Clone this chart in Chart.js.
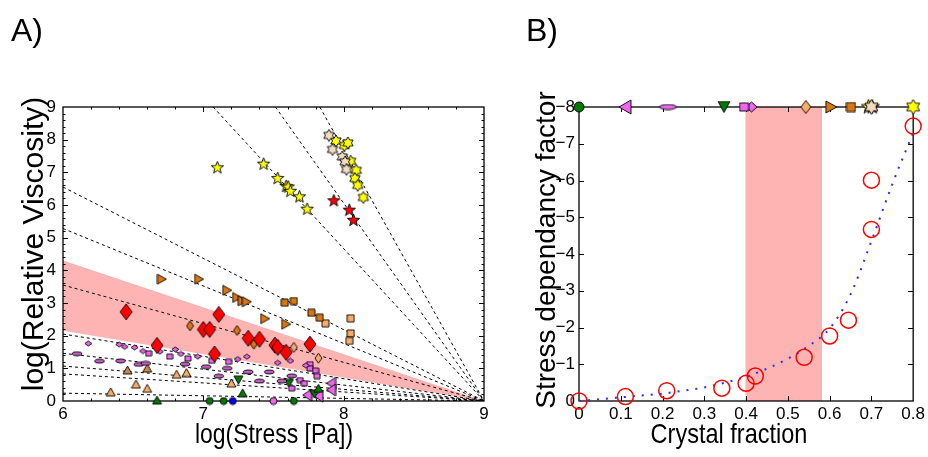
<!DOCTYPE html>
<html>
<head>
<meta charset="utf-8">
<script src="https://cdn.jsdelivr.net/npm/chart.js@4.4.0/dist/chart.umd.min.js"></script>
<style>
body{margin:0;background:#fff;width:928px;height:457px;position:relative;overflow:hidden;font-family:"Liberation Sans",Arial,sans-serif}
#left{position:absolute;left:0;top:0}
#right{position:absolute;left:500px;top:0}
.lbl{position:absolute;color:#000;white-space:nowrap;line-height:1}
</style>
</head>
<body>
<canvas id="left" width="500" height="457"></canvas>
<canvas id="right" width="428" height="457"></canvas>
<div class="lbl" style="left:11px;top:14px;font-size:32px">A)</div>
<div class="lbl" style="left:526px;top:14px;font-size:32px">B)</div>
<div class="lbl" style="left:274px;top:434px;font-size:28px;transform:translate(-50%,-50%) scaleX(0.82)">log(Stress [Pa])</div>
<div class="lbl" style="left:729px;top:434px;font-size:28px;transform:translate(-50%,-50%) scaleX(0.84)">Crystal fraction</div>
<div class="lbl" style="left:33px;top:244px;font-size:30px;transform:translate(-50%,-50%) rotate(-90deg)">log(Relative Viscosity)</div>
<div class="lbl" style="left:546px;top:250px;font-size:28px;transform:translate(-50%,-50%) rotate(-90deg)">Stress dependancy factor</div>
<script>
// ---- panel A: log(viscosity) vs log(stress) ----
var yellowStarX = [7.10, 7.43, 7.53, 7.59, 7.605, 7.62, 7.685, 7.74]
var yellowStarY = [7.14, 7.25, 6.81, 6.57, 6.55, 6.42, 6.25, 5.87]
var tanStarX = [7.895, 7.92, 7.99, 8.01, 8.02]
var tanStarY = [8.13, 7.70, 7.47, 7.32, 7.09]
var yellowHexX = [7.945, 8.005, 8.03, 8.05, 8.09, 8.08, 8.10, 8.14]
var yellowHexY = [7.96, 7.82, 7.90, 7.34, 7.06, 6.81, 6.60, 6.23]
var redStarX = [7.93, 8.04, 8.07]
var redStarY = [6.13, 5.84, 5.53]
var orangeTriX = [6.705, 6.97, 7.17, 7.24, 7.28, 7.31, 7.44, 7.59]
var orangeTriY = [3.73, 3.73, 3.39, 3.17, 3.07, 3.04, 2.52, 2.35]
var orangeSqX = [7.58, 7.645, 7.77, 7.83]
var orangeSqY = [3.01, 3.06, 2.70, 2.55]
var lightSqX = [7.87, 8.05, 8.05, 8.04]
var lightSqY = [2.38, 2.53, 2.07, 1.84]
var redDiaX = [6.45, 7.11, 7.0, 7.045, 6.67, 7.08, 7.32, 7.40, 7.51, 7.53, 7.59, 7.76]
var redDiaY = [2.73, 2.65, 2.19, 2.19, 1.70, 1.44, 1.92, 1.89, 1.71, 1.64, 1.49, 1.74]
var orangeDiaX = [6.905, 7.24, 7.36]
var orangeDiaY = [2.30, 2.16, 1.74]
var lightDiaX = [7.645, 7.82]
var lightDiaY = [1.64, 1.31]
var pinkDiaX = [6.18, 6.40, 6.44, 6.51, 6.57, 6.69, 6.80, 6.84, 6.96, 7.245, 7.31, 7.53, 7.62, 7.73]
var pinkDiaY = [1.76, 1.73, 1.66, 1.64, 1.53, 1.51, 1.58, 1.44, 1.36, 1.28, 1.36, 1.17, 1.23, 1.09]
var pinkSqX = [6.61, 6.76, 6.89, 7.06, 7.18, 7.76, 7.76, 7.80, 7.81, 7.69, 7.72, 7.63]
var pinkSqY = [1.46, 1.36, 1.30, 1.23, 1.20, 1.13, 1.00, 0.93, 0.76, 0.64, 0.54, 0.39]
var ellipseX = [6.10, 6.26, 6.41, 6.54, 6.59, 6.87, 7.02, 7.17, 7.11, 7.32, 7.40, 7.47, 7.56, 7.63]
var ellipseY = [1.45, 1.22, 1.23, 1.12, 1.15, 1.13, 1.05, 1.00, 0.76, 0.89, 0.61, 0.89, 0.61, 0.77]
var tanTriX = [6.34, 6.52, 6.60, 6.81, 6.88, 7.20]
var tanTriY = [0.28, 0.52, 0.39, 0.82, 0.87, 0.55]
var brownTriX = [6.46, 6.60]
var brownTriY = [0.95, 1.01]
var greenUpX = [6.67, 7.28, 7.82]
var greenUpY = [0.03, 0.25, 0.39]
var greenDownX = [7.25, 7.61, 7.79]
var greenDownY = [0.64, 0.54, 0.21]
var greenDotX = [7.045, 7.145, 7.645]
var greenDotY = [0, 0, 0]
var blueDotX = [7.21]
var blueDotY = [0]
var pinkDotX = [7.50]
var pinkDotY = [0]
var pinkLeftX = [7.91, 7.91, 7.82, 7.74]
var pinkLeftY = [0.54, 0.34, 0.15, 0.18]

// fitted lines all end at (9, 0)
var fitEndX = 9, fitEndY = 0
var shallowStartY = [6.55, 5.28, 3.55, 2.05, 1.46, 1.07, 0.83, 0.24]  // at x = 6
var steepStartX = [7.07, 7.514, 7.83]                                  // at y = 9
var bandTopY = 4.3, bandBottomY = 2.15

// ---- panel B: stress dependancy factor vs crystal fraction ----
var fracX = [0, 0.111, 0.21, 0.342, 0.40, 0.422, 0.539, 0.60, 0.645, 0.70, 0.70, 0.80]
var factorY = [0, -0.12, -0.28, -0.35, -0.48, -0.68, -1.19, -1.77, -2.2, -4.67, -6.01, -7.48]
var curveX = [0, 0.05, 0.1, 0.15, 0.2, 0.25, 0.3, 0.35, 0.4, 0.45, 0.5, 0.55, 0.6, 0.65, 0.7, 0.75, 0.8]
var curveY = [0, -0.05, -0.1, -0.15, -0.2, -0.28, -0.37, -0.5, -0.66, -0.88, -1.15, -1.5, -1.97, -2.9, -4.35, -5.9, -7.3]
var bandFrac = [0.398, 0.582]
var topRowY = -8

function pts(xs, ys) { return xs.map(function(x, i){ return {x: x, y: ys[i]} }) }

// little canvases used as point styles (matlab-ish markers)
function marker(shape, w, h, fill) {
    var c = document.createElement('canvas')
    c.width = w + 2; c.height = h + 2
    var g = c.getContext('2d')
    g.translate(c.width / 2, c.height / 2)
    var rx = w / 2, ry = h / 2
    g.beginPath()
    if (shape == 'circle') g.ellipse(0, 0, rx, ry, 0, 0, Math.PI * 2)
    else if (shape == 'square') g.rect(-rx, -ry, w, h)
    else if (shape == 'diamond') { g.moveTo(0, -ry); g.lineTo(rx, 0); g.lineTo(0, ry); g.lineTo(-rx, 0) }
    else if (shape == 'up') { g.moveTo(0, -ry); g.lineTo(rx, ry); g.lineTo(-rx, ry) }
    else if (shape == 'down') { g.moveTo(0, ry); g.lineTo(rx, -ry); g.lineTo(-rx, -ry) }
    else if (shape == 'right') { g.moveTo(rx, 0); g.lineTo(-rx, ry); g.lineTo(-rx, -ry) }
    else if (shape == 'left') { g.moveTo(-rx, 0); g.lineTo(rx, ry); g.lineTo(rx, -ry) }
    else if (shape == 'star5' || shape == 'star6') {
        var n = shape == 'star5' ? 5 : 6
        var inner = shape == 'star5' ? 0.42 : 0.58
        for (var k = 0; k < n * 2; k++) {
            var a = -Math.PI / 2 + k * Math.PI / n
            var r = k % 2 ? inner : 1
            g.lineTo(Math.cos(a) * rx * r, Math.sin(a) * ry * r)
        }
    }
    g.closePath()
    g.fillStyle = fill
    g.fill()
    g.lineWidth = 0.9
    g.strokeStyle = '#000'
    g.stroke()
    return c
}

function scatter(label, data, style) {
    return { label: label, data: data, pointStyle: style, pointRadius: 5, showLine: false, clip: false, order: 1 }
}
function dashed(data) {
    return { data: data, showLine: true, pointRadius: 0, borderColor: '#000', borderWidth: 1,
             borderDash: [3, 3], fill: false, order: 5 }
}

// box frame and inward ticks, drawn right after the shaded band
function drawFrame(chart) {
    var o = chart.options.plugins.frame
    var a = chart.chartArea, ctx = chart.ctx
    var xs = chart.scales.x, ys = chart.scales.y
    ctx.save()
    ctx.strokeStyle = '#000'
    ctx.lineWidth = 1
    ctx.beginPath()
    function tick(list, len, vertical) {
        list.forEach(function(v){
            if (vertical) {
                var px = Math.round(xs.getPixelForValue(v)) + 0.5
                ctx.moveTo(px, a.bottom); ctx.lineTo(px, a.bottom - len)
                ctx.moveTo(px, a.top); ctx.lineTo(px, a.top + len)
            } else {
                var py = Math.round(ys.getPixelForValue(v)) + 0.5
                ctx.moveTo(a.left, py); ctx.lineTo(a.left + len, py)
                ctx.moveTo(a.right, py); ctx.lineTo(a.right - len, py)
            }
        })
    }
    tick(o.xMajor, 5, true)
    tick(o.xMinor, 2.5, true)
    tick(o.yMajor, 5, false)
    tick(o.yMinor, 2.5, false)
    ctx.stroke()
    ctx.lineWidth = 1.3
    ctx.strokeRect(a.left, a.top, a.right - a.left, a.bottom - a.top)
    ctx.restore()
}
var framePlugin = {
    id: 'frame',
    afterDatasetDraw: function(chart, args) {
        if (chart.data.datasets[args.index].isBand) drawFrame(chart)
    }
}

function range(a, b, s) { var r = []; for (var v = a; v <= b + 1e-9; v += s) r.push(+v.toFixed(3)); return r }

var tickFont = { family: 'Liberation Sans, Arial, sans-serif', size: 17 }

// ---------- panel A ----------
var dsA = [
    scatter('yellow stars', pts(yellowStarX, yellowStarY), marker('star5', 13, 13, '#ffff00')),
    scatter('tan stars', pts(tanStarX, tanStarY), marker('star6', 12, 12, '#f2dcc0')),
    scatter('yellow hex stars', pts(yellowHexX, yellowHexY), marker('star6', 12, 12, '#ffff00')),
    scatter('red stars', pts(redStarX, redStarY), marker('star5', 13, 13, '#ff0000')),
    scatter('orange triangles', pts(orangeTriX, orangeTriY), marker('right', 9, 10, '#d9780e')),
    scatter('orange squares', pts(orangeSqX, orangeSqY), marker('square', 7, 7, '#d9780e')),
    scatter('light squares', pts(lightSqX, lightSqY), marker('square', 7, 7, '#f7ad68')),
    scatter('red diamonds', pts(redDiaX, redDiaY), marker('diamond', 12, 16, '#ff0000')),
    scatter('orange diamonds', pts(orangeDiaX, orangeDiaY), marker('diamond', 7, 10, '#d9780e')),
    scatter('light diamonds', pts(lightDiaX, lightDiaY), marker('diamond', 7, 10, '#f7ad68')),
    scatter('pink diamonds', pts(pinkDiaX, pinkDiaY), marker('diamond', 7, 5, '#ee66ee')),
    scatter('pink squares', pts(pinkSqX, pinkSqY), marker('square', 6, 5, '#ee66ee')),
    scatter('ellipses', pts(ellipseX, ellipseY), marker('circle', 10, 4, '#c45ec4')),
    scatter('tan triangles', pts(tanTriX, tanTriY), marker('up', 9, 8, '#f7ad68')),
    scatter('brown triangles', pts(brownTriX, brownTriY), marker('up', 9, 8, '#c98845')),
    scatter('green up', pts(greenUpX, greenUpY), marker('up', 9, 8, '#007a00')),
    scatter('green down', pts(greenDownX, greenDownY), marker('down', 9, 8, '#007a00')),
    scatter('green dots', pts(greenDotX, greenDotY), marker('circle', 7, 7, '#007a00')),
    scatter('blue dots', pts(blueDotX, blueDotY), marker('circle', 7, 7, '#0000ff')),
    scatter('pink dots', pts(pinkDotX, pinkDotY), marker('circle', 7, 7, '#ee66ee')),
    scatter('pink left', pts(pinkLeftX, pinkLeftY), marker('left', 9, 12, '#ee66ee'))
]
shallowStartY.forEach(function(y0){ dsA.push(dashed([{x: 6, y: y0}, {x: fitEndX, y: fitEndY}])) })
steepStartX.forEach(function(x0){ dsA.push(dashed([{x: x0, y: 9}, {x: fitEndX, y: fitEndY}])) })
dsA.push({ data: [{x: 6, y: bandTopY}, {x: fitEndX, y: fitEndY}], showLine: true, pointRadius: 0,
           borderWidth: 0, fill: false, order: 10 })
dsA.push({ data: [{x: 6, y: bandBottomY}, {x: fitEndX, y: fitEndY}], showLine: true, pointRadius: 0,
           borderWidth: 0, backgroundColor: '#ffb4b4', fill: '-1', order: 9, isBand: true })

new Chart(document.getElementById('left'), {
    type: 'scatter',
    data: { datasets: dsA },
    options: {
        responsive: false, animation: false, events: [],
        layout: { padding: { top: 107, right: 16, left: 0, bottom: 0 } },
        plugins: { legend: { display: false }, tooltip: { enabled: false },
            frame: { xMajor: [7, 8], xMinor: range(6.2, 8.8, 0.2), yMajor: range(1, 8, 1), yMinor: range(0.2, 8.8, 0.2) } },
        scales: {
            x: { min: 6, max: 9, grid: { display: false, drawTicks: false }, border: { display: false },
                 ticks: { stepSize: 1, padding: 3, color: '#000', font: tickFont, maxRotation: 0 },
                 afterFit: function(s){ s.height = 56 } },
            y: { min: 0, max: 9, grid: { display: false, drawTicks: false }, border: { display: false },
                 ticks: { stepSize: 1, padding: 7, color: '#000', font: tickFont },
                 afterFit: function(s){ s.width = 63 } }
        }
    },
    plugins: [framePlugin]
})

// ---------- panel B ----------
var topRow = [
    [0, marker('circle', 10, 10, '#007a00')],
    [0.11, marker('left', 12, 14, '#ee66ee')],
    [0.213, marker('circle', 17, 5, '#ee66ee')],
    [0.347, marker('down', 12, 11, '#007a00')],
    [0.395, marker('square', 9, 8, '#ee66ee')],
    [0.413, marker('diamond', 11, 10, '#ee66ee')],
    [0.543, marker('diamond', 10, 13, '#f7ad68')],
    [0.604, marker('right', 11, 12, '#d9780e')],
    [0.651, marker('square', 9, 9, '#d9780e')],
    [0.70, marker('star6', 15, 15, '#f2dcc0')],
    [0.702, marker('star5', 15, 15, '#ff0000')],
    [0.693, marker('star5', 15, 15, '#ffff00')],
    [0.80, marker('star6', 15, 15, '#ffff00')]
]
var dsB = topRow.map(function(r){ return scatter('top', [{x: r[0], y: topRowY}], r[1]) })
dsB.push({ data: pts(fracX, factorY), showLine: false, pointStyle: 'circle', pointRadius: 8,
           borderColor: '#ff0000', borderWidth: 1.5, backgroundColor: 'rgba(0,0,0,0)', clip: false, order: 2 })
dsB.push({ data: pts(curveX, curveY), showLine: true, pointRadius: 0, borderColor: '#2a2aff',
           borderWidth: 2, borderDash: [2, 7], cubicInterpolationMode: 'monotone', fill: false, order: 3 })
dsB.push({ data: [{x: bandFrac[0], y: topRowY}, {x: bandFrac[1], y: topRowY}], showLine: true, pointRadius: 0,
           borderWidth: 0, backgroundColor: '#ffb4b4', fill: 'origin', order: 10, isBand: true })

new Chart(document.getElementById('right'), {
    type: 'scatter',
    data: { datasets: dsB },
    options: {
        responsive: false, animation: false, events: [],
        layout: { padding: { top: 107, right: 11, left: 0, bottom: 0 } },
        plugins: { legend: { display: false }, tooltip: { enabled: false },
            frame: { xMajor: range(0.1, 0.7, 0.1), xMinor: [], yMajor: range(-7, -1, 1), yMinor: [] } },
        scales: {
            x: { min: 0, max: 0.8, grid: { display: false, drawTicks: false }, border: { display: false },
                 ticks: { stepSize: 0.1, padding: 3, color: '#000', font: tickFont, maxRotation: 0,
                          callback: function(v){ return v == 0 ? '0' : (+v.toFixed(1)).toString() } },
                 afterFit: function(s){ s.height = 56 } },
            y: { min: -8, max: 0, reverse: true, grid: { display: false, drawTicks: false }, border: { display: false },
                 ticks: { stepSize: 1, padding: 4, color: '#000', font: tickFont,
                          callback: function(v){ return v == 0 ? '0' : '\u2212' + Math.abs(v) } },
                 afterFit: function(s){ s.width = 79 } }
        }
    },
    plugins: [framePlugin]
})
</script>
</body>
</html>
